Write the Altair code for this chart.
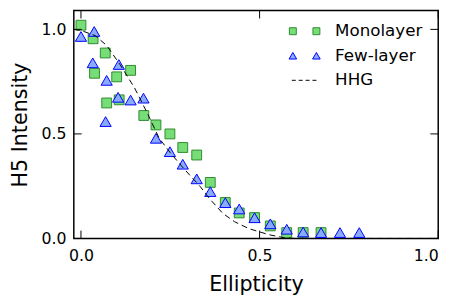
import altair as alt
import pandas as pd

# Monolayer (green squares)
mono_x = [0.0, 0.034, 0.038, 0.068, 0.072, 0.100, 0.107, 0.139, 0.176, 0.210,
          0.249, 0.285, 0.324, 0.362, 0.404, 0.443, 0.486, 0.530, 0.576, 0.622, 0.672]
mono_y = [1.02, 0.955, 0.79, 0.887, 0.648, 0.773, 0.663, 0.804, 0.588, 0.543,
          0.50, 0.435, 0.399, 0.268, 0.172, 0.122, 0.10, 0.06, 0.028, 0.028, 0.028]

# Few-layer (blue triangles)
few_x = [0.0, 0.037, 0.033, 0.106, 0.072, 0.104, 0.139, 0.175, 0.069, 0.210,
         0.249, 0.285, 0.324, 0.362, 0.404, 0.443, 0.486, 0.530, 0.576, 0.622,
         0.672, 0.725, 0.779]
few_y = [0.966, 0.99, 0.84, 0.832, 0.756, 0.675, 0.662, 0.671, 0.559, 0.479,
         0.415, 0.355, 0.285, 0.224, 0.171, 0.141, 0.099, 0.07, 0.044, 0.031,
         0.028, 0.028, 0.028]

# HHG curve (dashed)
hhg_x = [-0.02, 0.0, 0.04, 0.072, 0.11, 0.15, 0.187, 0.219, 0.25, 0.29, 0.333,
         0.36, 0.397, 0.43, 0.47, 0.526, 0.57, 0.6, 1.0]
hhg_y = [1.0, 0.995, 0.97, 0.923, 0.83, 0.72, 0.595, 0.479, 0.41, 0.33, 0.25,
         0.19, 0.12, 0.08, 0.047, 0.018, 0.003, 0.0, 0.0]

x_ticks = [0.0, 0.5, 1.0]
y_ticks = [0.0, 0.5, 1.0]
legend_labels = ["Monolayer", "Few-layer", "HHG"]

W, H = 371, 232
XD = [-0.02, 1.0]
YD = [0.0, 1.09]
FONT = "DejaVu Sans"

mono = pd.DataFrame({"x": mono_x, "y": mono_y})
few = pd.DataFrame({"x": few_x, "y": few_y})
hhg = pd.DataFrame({"x": hhg_x, "y": hhg_y})
xt = pd.DataFrame({"v": x_ticks})
yt = pd.DataFrame({"v": y_ticks})

xs = alt.Scale(domain=XD, nice=False, zero=False)
ys = alt.Scale(domain=YD, nice=False, zero=False)

X = alt.X("x:Q", scale=xs, title="Ellipticity",
          axis=alt.Axis(values=x_ticks, format=".1f", ticks=False, domain=False, grid=False,
                        labelPadding=9, titlePadding=11))
Y = alt.Y("y:Q", scale=ys, title="H5 Intensity",
          axis=alt.Axis(values=y_ticks, format=".1f", ticks=False, domain=False, grid=False,
                        labelPadding=8, titlePadding=11))

GREEN_FILL = "#77dd77"
GREEN_EDGE = "#2e8b2e"
BLUE_FILL = "#88aaff"
BLUE_EDGE = "#0000ff"

pts_mono = alt.Chart(mono).mark_point(shape="square", filled=True, size=100,
                                      fill=GREEN_FILL, stroke=GREEN_EDGE, strokeWidth=1,
                                      opacity=1).encode(x=X, y=Y)
pts_few = alt.Chart(few).mark_point(shape="triangle-up", filled=True, size=130,
                                    fill=BLUE_FILL, stroke=BLUE_EDGE, strokeWidth=1,
                                    opacity=1).encode(x=alt.X("x:Q", scale=xs), y=alt.Y("y:Q", scale=ys))
line = alt.Chart(hhg).mark_line(color="black", strokeWidth=1, strokeDash=[6, 4], clip=True).encode(
    x=alt.X("x:Q", scale=xs), y=alt.Y("y:Q", scale=ys))

TL = 8
tick_b = alt.Chart(xt).mark_rule(color="black", strokeWidth=1).encode(
    x=alt.X("v:Q", scale=xs), y=alt.value(H), y2=alt.value(H - TL))
tick_t = alt.Chart(xt).mark_rule(color="black", strokeWidth=1).encode(
    x=alt.X("v:Q", scale=xs), y=alt.value(0), y2=alt.value(TL))
tick_l = alt.Chart(yt).mark_rule(color="black", strokeWidth=1).encode(
    y=alt.Y("v:Q", scale=ys), x=alt.value(0), x2=alt.value(TL))
tick_r = alt.Chart(yt).mark_rule(color="black", strokeWidth=1).encode(
    y=alt.Y("v:Q", scale=ys), x=alt.value(W), x2=alt.value(W - TL))

# custom legend (two symbols per entry, like matplotlib)
rows = [21, 46, 71]
sx = [223, 247]
leg = []
for px in sx:
    leg.append(alt.Chart(mono).mark_point(shape="square", filled=True, size=50, fill=GREEN_FILL,
                                          stroke=GREEN_EDGE, strokeWidth=1, opacity=1)
               .encode(x=alt.value(px), y=alt.value(rows[0])).transform_filter("datum.x == 0"))
    leg.append(alt.Chart(few).mark_point(shape="triangle-up", filled=True, size=60, fill=BLUE_FILL,
                                         stroke=BLUE_EDGE, strokeWidth=1, opacity=1)
               .encode(x=alt.value(px), y=alt.value(rows[1])).transform_filter("datum.x == 0"))
leg.append(alt.Chart(hhg).mark_rule(color="black", strokeWidth=1, strokeDash=[4, 3])
           .encode(x=alt.value(222), x2=alt.value(248), y=alt.value(rows[2])).transform_filter("datum.x == 0"))
ldf = pd.DataFrame({"label": legend_labels, "row": [0, 1, 2]})
for i, lab in enumerate(legend_labels):
    leg.append(alt.Chart(ldf).mark_text(align="left", baseline="middle", font=FONT, fontSize=17,
                                        color="black")
               .encode(x=alt.value(266), y=alt.value(rows[i]), text="label:N")
               .transform_filter(f"datum.row == {i}"))

chart = alt.layer(pts_mono, pts_few, line, tick_b, tick_t, tick_l, tick_r, *leg).properties(
    width=W, height=H,
    background="white",
    autosize=alt.AutoSizeParams(type="none"),
    padding={"left": 67, "top": 0, "right": 12, "bottom": 57},
).configure_view(stroke="black", strokeWidth=1.5).configure_axis(
    labelFont=FONT, labelFontSize=16, labelColor="black",
    titleFont=FONT, titleFontSize=21, titleColor="black", titleFontWeight="normal",
)

chart.save("out.html", embed_options={"renderer": "svg", "actions": False})
